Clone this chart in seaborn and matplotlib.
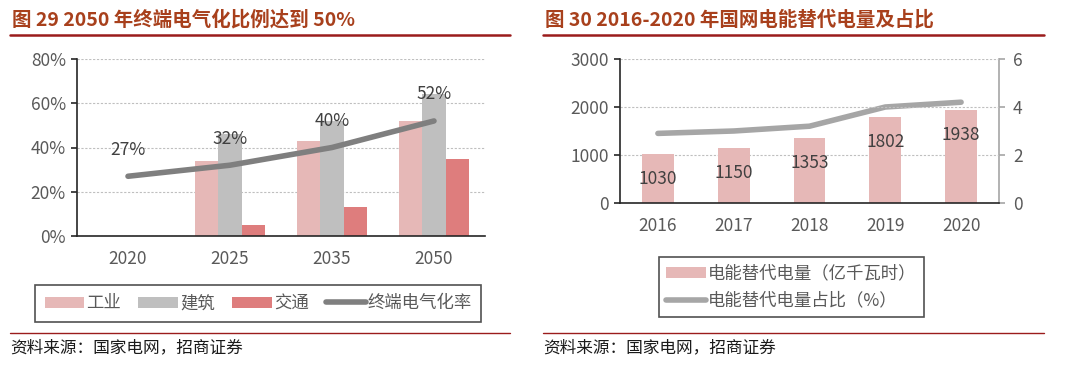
import matplotlib
matplotlib.use("Agg")
import matplotlib.pyplot as plt
import seaborn as sns
import pandas as pd
import numpy as np
from matplotlib.ticker import PercentFormatter, MultipleLocator, FixedLocator
from matplotlib.lines import Line2D

sns.set_style("white")
plt.rcParams['font.family'] = ['Noto Sans CJK SC', 'DejaVu Sans']

# left chart data
years_l = ["2020", "2025", "2035", "2050"]
industry = [np.nan, 34, 43, 52]
building = [np.nan, 46, 52, 64]
transport = [np.nan, 5, 13, 35]
elec_rate = [27, 32, 40, 52]
sectors = ["工业", "建筑", "交通"]

# right chart data
years_r = ["2016", "2017", "2018", "2019", "2020"]
replace_qty = [1030, 1150, 1353, 1802, 1938]
replace_share = [2.9, 3.0, 3.2, 4.0, 4.2]

c_ind, c_bld, c_trn = "#E6B8B7", "#BFBFBF", "#DE7D7D"
tick_c = "#595959"
title_c = "#A8401C"
red_line = "#9B1C1C"
fs = 12.5

fig = plt.figure(figsize=(10.8, 3.68), dpi=100)

# ---- left chart ----
ax1 = fig.add_axes([77 / 1080, 1 - 236 / 368, 408 / 1080, 177 / 368])
df = pd.DataFrame({
    "year": years_l * 3,
    "sector": [s for s in sectors for _ in years_l],
    "value": industry + building + transport,
})
sns.barplot(data=df, x="year", y="value", hue="sector", order=years_l,
            hue_order=sectors, palette=[c_ind, c_bld, c_trn], width=0.68,
            errorbar=None, ax=ax1, legend=True, saturation=1)
for p in ax1.patches:
    p.set_edgecolor("none")
xs = np.arange(len(years_l))
sns.lineplot(x=xs, y=elec_rate, color="#7F7F7F", lw=4, ax=ax1,
             label="终端电气化率", solid_capstyle="round")
for x, v in zip(xs, elec_rate):
    ax1.text(x, v + 12, f"{v}%", ha="center", va="center", fontsize=fs,
             color="#404040")
ax1.set_ylim(0, 80)
ax1.set_xlim(-0.5, len(years_l) - 0.5)
ax1.yaxis.set_major_locator(MultipleLocator(20))
ax1.yaxis.set_major_formatter(PercentFormatter(decimals=0))

handles, labels = ax1.get_legend_handles_labels()
leg1 = ax1.legend(handles, labels, loc="center", bbox_to_anchor=(0.444, -0.38),
                  ncol=4, frameon=True, fancybox=False, fontsize=fs,
                  handlelength=2.3, handleheight=0.6, handletextpad=0.1,
                  columnspacing=1.0, borderpad=0.55, borderaxespad=0)

# ---- right chart ----
ax2 = fig.add_axes([620 / 1080, 1 - 203 / 368, 379 / 1080, 144 / 368])
sns.barplot(x=years_r, y=replace_qty, color=c_ind, width=0.42, ax=ax2,
            saturation=1, label="电能替代电量（亿千瓦时）")
for p in ax2.patches:
    p.set_edgecolor("none")
for i, v in enumerate(replace_qty):
    ax2.annotate(f"{v}", (i, v), xytext=(0, -18), textcoords="offset points",
                 ha="center", va="center", fontsize=fs, color="#404040")
ax2.set_ylim(0, 3000)
ax2.set_xlim(-0.5, len(years_r) - 0.5)
ax2.yaxis.set_major_locator(MultipleLocator(1000))
ax2b = ax2.twinx()
sns.lineplot(x=np.arange(len(years_r)), y=replace_share, color="#A6A6A6",
             lw=4, ax=ax2b, legend=False)
ax2b.set_ylim(0, 6)
ax2b.yaxis.set_major_locator(MultipleLocator(2))
ax2b.set_ylabel("")

h_bar, l_bar = ax2.get_legend_handles_labels()
h_line = Line2D([], [], color="#A6A6A6", lw=4)
leg2 = ax2.legend(h_bar + [h_line], l_bar + ["电能替代电量占比（%）"],
                  loc="center", bbox_to_anchor=(0.4525, -0.583), ncol=1,
                  frameon=True, fancybox=False, fontsize=fs,
                  handlelength=2.3, handleheight=0.6, handletextpad=0.1,
                  borderpad=0.4, labelspacing=0.55, borderaxespad=0)
ax2.set_zorder(ax2b.get_zorder() + 1)
ax2.patch.set_visible(False)

for ax, n in [(ax1, len(years_l)), (ax2, len(years_r))]:
    ax.set_xlabel("")
    ax.set_ylabel("")
    ax.grid(axis="y", ls=(0, (2, 1.5)), color="#BFBFBF", lw=0.8)
    ax.set_axisbelow(True)
    for s in ["top", "right"]:
        ax.spines[s].set_visible(False)
    ax.spines["left"].set_color("#262626")
    ax.spines["bottom"].set_color("#262626")
    ax.spines["left"].set_linewidth(1.2)
    ax.spines["bottom"].set_linewidth(1.2)
    ax.xaxis.set_minor_locator(FixedLocator(np.arange(n + 1) - 0.5))
    ax.tick_params(axis="x", which="major", length=0, pad=10,
                   labelsize=fs, labelcolor=tick_c)
    ax.tick_params(axis="x", which="minor", length=5, width=1.2,
                   color="#262626", direction="out")
    ax.tick_params(axis="y", length=4, width=1.2, color="#262626",
                   labelsize=fs, labelcolor=tick_c, pad=4, left=True)
    leg = ax.get_legend()
    leg.get_frame().set_edgecolor("#262626")
    leg.get_frame().set_linewidth(1.2)
    for t in leg.get_texts():
        t.set_color(tick_c)

for s in ["top", "left", "bottom"]:
    ax2b.spines[s].set_visible(False)
ax2b.spines["right"].set_color("#A6A6A6")
ax2b.spines["right"].set_linewidth(1.2)
ax2b.tick_params(axis="y", length=4, width=1.2, color="#A6A6A6",
                 labelsize=fs, labelcolor=tick_c, pad=6, right=True)

# titles, rules and source notes
for x0, x1, title in [(10, 510, "图 29 2050 年终端电气化比例达到 50%"),
                      (543, 1044, "图 30 2016-2020 年国网电能替代电量及占比")]:
    fig.text(x0 / 1080 + 0.002, 1 - 20 / 368, title, fontsize=14,
             fontweight="bold", color=title_c, va="center", ha="left")
    fig.add_artist(Line2D([x0 / 1080, x1 / 1080], [1 - 35 / 368] * 2,
                          color=red_line, lw=1.8))
    fig.add_artist(Line2D([x0 / 1080, x1 / 1080], [1 - 333 / 368] * 2,
                          color=red_line, lw=1.0))
    fig.text(x0 / 1080, 1 - 348 / 368, "资料来源：国家电网，招商证券",
             fontsize=12, color="#1a1a1a", va="center", ha="left")

fig.savefig("out.png", dpi=100)
